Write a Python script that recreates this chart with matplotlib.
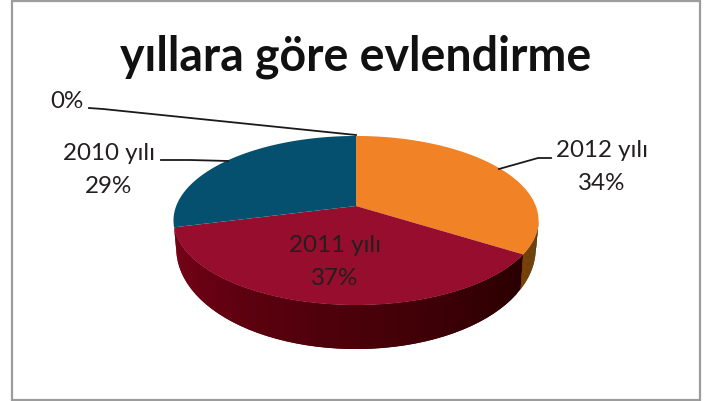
import numpy as np
import matplotlib
matplotlib.use("Agg")
import matplotlib.pyplot as plt
from matplotlib.patches import Rectangle

title = "yıllara göre evlendirme"
labels = ["2012 yılı", "2011 yılı", "2010 yılı", ""]
values = [34, 37, 29, 0]
colors = ["#F18226", "#960D2D", "#06506F", "#8A8A8A"]
# wall colours, left to right (only the front of the pie shows a wall)
wall_colors = {0: ("#7C4303", "#4E2A00"), 1: ("#7A0218", "#2A0000")}
text_color = "#231F20"

# look of the pie, in pixels
cx, cy = 356, 206
k = 0.1716
sx, a = 179.8, -46.7


def rim(t):
    # t is clockwise from the top, in radians. flat circle seen in perspective
    u, v = np.sin(t), np.cos(t)
    w = 1 + k * v
    return cx + sx * u / w, (a * v + cy) / w


def lower(t):
    x, y = rim(t)
    d = 24 - 20 * np.cos(t)
    return cx + (x - cx) * 0.985, y + d


fig = plt.figure(figsize=(7.04, 4.01), dpi=100)
ax = fig.add_axes([0, 0, 1, 1])
ax.set_xlim(0, 704)
ax.set_ylim(401, 0)
ax.axis("off")

# frame
ax.add_patch(Rectangle((12, 1), 688, 399, fill=False, edgecolor="#9C9C9C", linewidth=1.6))

edges = 2 * np.pi * np.cumsum([0] + values) / sum(values)
t_right = np.pi - np.arccos(k)
t_left = np.pi + np.arccos(k)

# side wall, strip by strip so it can get darker to the right
for i in wall_colors:
    start = max(edges[i], t_right)
    end = min(edges[i + 1], t_left)
    c0 = np.array(matplotlib.colors.to_rgb(wall_colors[i][0]))
    c1 = np.array(matplotlib.colors.to_rgb(wall_colors[i][1]))
    ts = np.linspace(start, end, 46)
    # go from right to left, every strip lies a bit over the next one so no seams show
    for j in range(len(ts) - 2, -1, -1):
        t2 = ts[j:j + 2]
        if j < len(ts) - 2:
            t2 = ts[j:j + 3]
        x1, y1 = rim(t2)
        x2, y2 = lower(t2)
        f = (end - ts[j]) / (end - start)
        col = c0 + (c1 - c0) * f
        ax.fill(list(x1) + list(x2[::-1]), list(y1) + list(y2[::-1]), color=col, linewidth=0, zorder=2)

# top of the pie
for i in range(len(values)):
    if values[i] == 0:
        continue
    ts = np.linspace(edges[i], edges[i + 1], 120)
    x, y = rim(ts)
    ax.fill(np.r_[cx, x], np.r_[cy, y], color=colors[i], linewidth=0, zorder=3)

# leader lines
ax.plot([89, 103, 356], [108, 109, 135], color="#1A1A1A", lw=1.3, zorder=4)
ax.plot([161, 190, 228], [160, 160, 161], color="#1A1A1A", lw=1.3, zorder=4)
ax.plot([499, 538, 551], [169, 158, 158], color="#1A1A1A", lw=1.3, zorder=4)

ax.text(356, 57, title, fontsize=33.5, fontweight="bold", family="Lato", color="#111111", ha="center", va="center")

label_pos = [(602, 167), (335, 262), (109, 170)]
for i in range(3):
    ax.text(label_pos[i][0], label_pos[i][1], f"{labels[i]}\n{values[i]}%", fontsize=17.4, family="Lato",
            color=text_color, ha="center", va="center", linespacing=1.74, zorder=5)
ax.text(67, 101, f"{values[3]}%", fontsize=17.4, family="Lato", color=text_color, ha="center", va="center")

fig.savefig("out.png", dpi=100)
